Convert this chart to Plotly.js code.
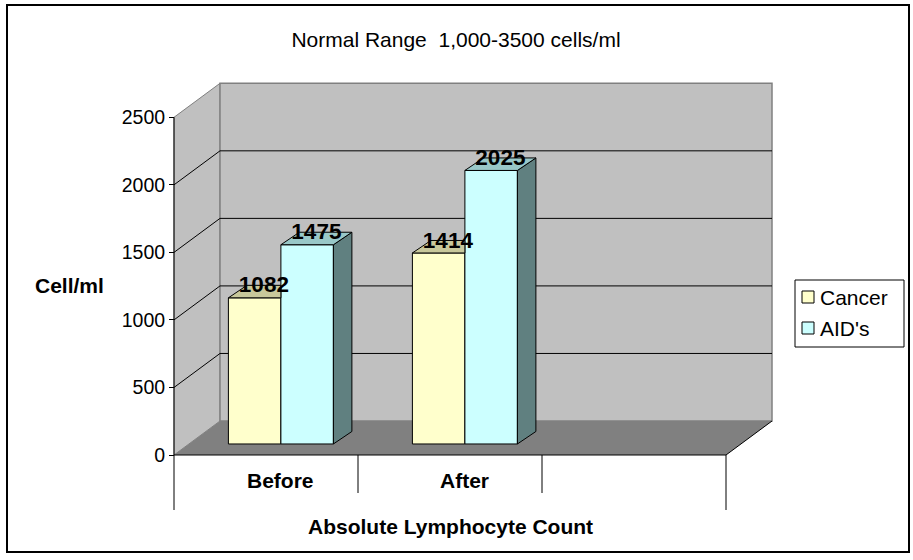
<!DOCTYPE html>
<html><head><meta charset="utf-8">
<script src="https://cdn.plot.ly/plotly-3.0.1.min.js"></script>
<style>html,body{margin:0;padding:0;background:#fff}</style>
</head><body><div id="chart" style="width:913px;height:560px"></div>
<script>
// ---------- data ----------
const categories = ["Before", "After"];
const seriesNames = ["Cancer", "AID's"];
const cancerValues = [1082, 1414];
const aidsValues = [1475, 2025];
const yTickValues = [0, 500, 1000, 1500, 2000, 2500];
const chartTitle = "Normal Range  1,000-3500 cells/ml";
const yTitle = "Cell/ml";
const xTitle = "Absolute Lymphocyte Count";

// ---------- geometry / style ----------
const W = 913, H = 560;
const S = 0.13508;            // px per value unit
const Y0 = 455;               // pixel row of value 0 (front plane)
const FRONT_L = 174, FRONT_R = 726;
const SLOTS = 3;
const SLOT_W = (FRONT_R - FRONT_L) / SLOTS;
const DEPTH_X = 46, DEPTH_PX = 34;
const DV = DEPTH_PX / S;      // depth in value units
const BAR_F = 0.324;          // bar front plane as fraction of depth
const BAR_DX = 18.5, BAR_DPX = 12.5;
const BAR_DV = BAR_DPX / S;
const BAR_W = 52.5;
const FONT = "Liberation Sans, Arial, sans-serif";
const FS = 21;
const frontColors = ["#FFFFCC", "#CCFFFF"];
const topColors = ["#C8C89B", "#99C8C8"];
const sideColors = ["#7F7F5F", "#608080"];
const yMax = Y0 / S, yMin = (Y0 - H) / S;
const yTop = yTickValues[yTickValues.length - 1];
function pv(p) { return (Y0 - p) / S; }   // pixel row -> value
function pp(p) { return 1 - p / H; }      // pixel row -> paper
function px(p) { return p / W; }          // pixel col -> paper

const seriesValues = [cancerValues, aidsValues];
const base = BAR_F * DV;
const xShift = BAR_F * DEPTH_X;
const backL = FRONT_L + DEPTH_X, backR = FRONT_R + DEPTH_X;

// ---------- shapes (walls, floor, grid) ----------
const shapes = [];
shapes.push({type: "path", xref: "x", yref: "y", layer: "below",
  path: `M${FRONT_L},0 L${backL},${DV} L${backL},${yTop + DV} L${FRONT_L},${yTop} Z`,
  fillcolor: "#C0C0C0", line: {color: "#808080", width: 1}});
shapes.push({type: "rect", xref: "x", yref: "y", layer: "below",
  x0: backL, x1: backR, y0: DV, y1: yTop + DV,
  fillcolor: "#C0C0C0", line: {color: "#808080", width: 1.5}});
yTickValues.forEach(v => {
  if (v > 0 && v < yTop) {
    shapes.push({type: "line", xref: "x", yref: "y", layer: "below",
      x0: backL, x1: backR, y0: v + DV, y1: v + DV, line: {color: "#000", width: 1}});
    shapes.push({type: "line", xref: "x", yref: "y", layer: "below",
      x0: FRONT_L, x1: backL, y0: v, y1: v + DV, line: {color: "#000", width: 1}});
  }
});
shapes.push({type: "path", xref: "x", yref: "y", layer: "below",
  path: `M${FRONT_L},0 L${backL},${DV} L${backR},${DV} L${FRONT_R},0 Z`,
  fillcolor: "#808080", line: {width: 0}});
shapes.push({type: "line", xref: "x", yref: "y", layer: "below",
  x0: FRONT_L, x1: FRONT_R, y0: 0, y1: 0, line: {color: "#000", width: 1.2}});
shapes.push({type: "line", xref: "x", yref: "y", layer: "below",
  x0: FRONT_R, x1: backR, y0: 0, y1: DV, line: {color: "#000", width: 1}});
shapes.push({type: "line", xref: "x", yref: "y", layer: "below",
  x0: FRONT_L, x1: FRONT_L, y0: 0, y1: yTop, line: {color: "#000", width: 1}});
for (let k = 0; k <= SLOTS; k++) {
  const xx = FRONT_L + k * SLOT_W;
  const end = (k === 0 || k === SLOTS) ? 510 : 493;
  shapes.push({type: "line", xref: "x", yref: "y", layer: "below",
    x0: xx, x1: xx, y0: 0, y1: pv(end), line: {color: "#000", width: 1}});
}
shapes.push({type: "rect", xref: "paper", yref: "paper", layer: "above",
  x0: px(7), x1: px(909), y0: pp(552), y1: pp(5), line: {color: "#000", width: 2}});

// legend box and swatches
const LEG_L = 795, LEG_R = 904, LEG_T = 280, LEG_B = 347;
const legRows = [297, 328];
shapes.push({type: "rect", xref: "paper", yref: "paper", layer: "above",
  x0: px(LEG_L), x1: px(LEG_R), y0: pp(LEG_B), y1: pp(LEG_T),
  fillcolor: "#fff", line: {color: "#000", width: 1}});
seriesNames.forEach((n, j) => {
  shapes.push({type: "rect", xref: "paper", yref: "paper", layer: "above",
    x0: px(802), x1: px(814), y0: pp(legRows[j] + 6), y1: pp(legRows[j] - 6),
    fillcolor: frontColors[j], line: {color: "#000", width: 1}});
});

// ---------- traces ----------
const traces = [];
seriesValues.forEach((vals, j) => {
  traces.push({type: "bar", name: seriesNames[j], showlegend: false,
    x: categories.map((c, i) => FRONT_L + SLOT_W * (i + 0.5) + xShift),
    y: vals, base: base, width: BAR_W, offset: j === 0 ? -BAR_W : 0,
    marker: {color: frontColors[j], line: {color: "#000", width: 1}},
    hoverinfo: "skip"});
});
const labX = [], labY = [], labT = [];
seriesValues.forEach((vals, j) => {
  vals.forEach((v, i) => {
    const c = FRONT_L + SLOT_W * (i + 0.5) + xShift;
    const xL = j === 0 ? c - BAR_W : c;
    const xR = xL + BAR_W;
    const t = base + v;
    const nb = seriesValues[j + 1] ? seriesValues[j + 1][i] : null;
    const hidden = nb !== null && nb >= v + BAR_DV;
    if (!hidden) {
      traces.push({type: "scatter", mode: "lines", fill: "toself", showlegend: false, hoverinfo: "skip",
        x: [xR, xR + BAR_DX, xR + BAR_DX, xR, xR],
        y: [base, base + BAR_DV, t + BAR_DV, t, base],
        fillcolor: sideColors[j], line: {color: "#000", width: 1}});
    }
    const bx = hidden ? [xL, xR, xR, xL + BAR_DX, xL] : [xL, xR, xR + BAR_DX, xL + BAR_DX, xL];
    traces.push({type: "scatter", mode: "lines", fill: "toself", showlegend: false, hoverinfo: "skip",
      x: bx, y: [t, t, t + BAR_DV, t + BAR_DV, t],
      fillcolor: topColors[j], line: {color: "#000", width: 1}});
    labX.push((xL + xR) / 2 + BAR_DX / 2);
    labY.push(t + 11 / S);
    labT.push(String(v));
  });
});
traces.push({type: "scatter", mode: "text", showlegend: false, hoverinfo: "skip",
  x: labX, y: labY, text: labT, textposition: "middle center",
  textfont: {family: FONT, size: 22.5, color: "#000", weight: "bold"}, cliponaxis: false});

// ---------- annotations ----------
const annotations = categories.map((c, i) => ({
  xref: "x", yref: "paper", x: FRONT_L + SLOT_W * (i + 0.5) + xShift, y: pp(480),
  text: c, showarrow: false, xanchor: "center", yanchor: "middle",
  font: {family: FONT, size: FS, color: "#000", weight: "bold"}}));
annotations.push({xref: "x", yref: "paper", x: (FRONT_L + FRONT_R) / 2, y: pp(526),
  text: xTitle, showarrow: false, xanchor: "center", yanchor: "middle",
  font: {family: FONT, size: FS, color: "#000", weight: "bold"}});
annotations.push({xref: "x", yref: "paper", x: 69, y: pp(285),
  text: yTitle, showarrow: false, xanchor: "center", yanchor: "middle",
  font: {family: FONT, size: FS, color: "#000", weight: "bold"}});
seriesNames.forEach((n, j) => {
  annotations.push({xref: "paper", yref: "paper", x: px(818), y: pp(legRows[j]),
    text: n, showarrow: false, xanchor: "left", yanchor: "middle",
    font: {family: FONT, size: FS, color: "#000"}});
});

const layout = {
  width: W, height: H, margin: {l: 0, r: 0, t: 0, b: 0},
  paper_bgcolor: "#fff", plot_bgcolor: "rgba(0,0,0,0)",
  title: {text: chartTitle, x: 456 / W, xanchor: "center", y: pp(40), yanchor: "middle",
    font: {family: FONT, size: FS, color: "#000"}},
  xaxis: {range: [0, W], visible: false, fixedrange: true},
  yaxis: {range: [yMin, yMax], anchor: "free", position: FRONT_L / W,
    tickvals: yTickValues, ticktext: yTickValues.map(String),
    ticks: "outside", ticklen: 5, tickcolor: "#000", tickwidth: 1,
    showgrid: false, zeroline: false, showline: false, fixedrange: true,
    tickfont: {family: FONT, size: 19.5, color: "#000"}},
  barmode: "overlay",
  showlegend: false,
  shapes: shapes, annotations: annotations
};
Plotly.newPlot("chart", traces, layout, {staticPlot: true, displayModeBar: false});
</script></body></html>
